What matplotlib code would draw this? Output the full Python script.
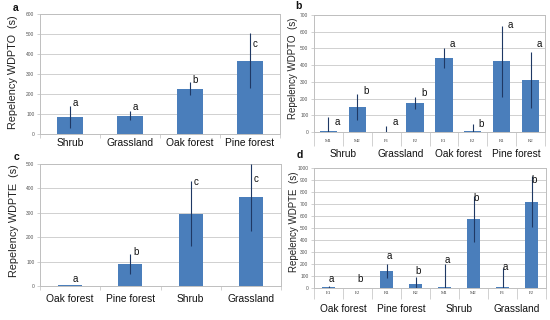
import numpy as np
import matplotlib
matplotlib.use("Agg")
import matplotlib.pyplot as plt

plt.rcParams['font.family'] = ['Liberation Sans', 'DejaVu Sans']

# ---- data ----
a_cats = ["Shrub", "Grassland", "Oak forest", "Pine forest"]
a_vals = [83, 92, 227, 367]
a_err = [55, 23, 33, 137]
a_letters = ["a", "a", "b", "c"]
a_letter_y = [155, 135, 270, 450]

b_ticks = ["M1", "M2", "P1", "P2", "E1", "E2", "R1", "R2"]
b_groups = ["Shrub", "Grassland", "Oak forest", "Pine forest"]
b_vals = [8, 150, 2, 175, 443, 5, 422, 313]
b_err = [80, 78, 36, 35, 58, 40, 214, 167]
b_letters = ["a", "b", "a", "b", "a", "b", "a", "a"]
b_letter_y = [62, 247, 62, 232, 525, 48, 640, 525]

c_cats = ["Oak forest", "Pine forest", "Shrub", "Grassland"]
c_vals = [4, 89, 296, 363]
c_err = [0, 41, 133, 136]
c_letters = ["a", "b", "c", "c"]
c_letter_y = [29, 141, 425, 438]

d_ticks = ["E1", "E2", "R1", "R2", "M1", "M2", "P1", "P2"]
d_groups = ["Oak forest", "Pine forest", "Shrub", "Grassland"]
d_vals = [8, 3, 140, 35, 12, 578, 8, 720]
d_err = [5, 0, 60, 55, 188, 192, 157, 210]
d_letters = ["a", "b", "a", "b", "a", "b", "a", "b"]
d_letter_y = [75, 75, 270, 142, 233, 753, 172, 900]

W, H = 550, 320
BAR = "#4a7ebb"
ERR = "#1f3864"
GRID = "#d0d0d0"
SPINE = "#bfbfbf"

fig = plt.figure(figsize=(W / 100, H / 100), dpi=100)
fig.patch.set_facecolor("white")


def make_ax(l, t, r, b):
    return fig.add_axes([l / W, 1 - b / H, (r - l) / W, (b - t) / H])


def style(ax, ymax, step):
    ax.set_ylim(0, ymax)
    ax.set_yticks(np.arange(0, ymax + 1, step))
    ax.grid(axis="y", color=GRID, linewidth=0.7)
    ax.set_axisbelow(True)
    for s in ax.spines.values():
        s.set_color(SPINE)
        s.set_linewidth(0.7)
    ax.tick_params(axis="y", length=2, width=0.5, color=SPINE, labelsize=3.5,
                   labelcolor="#555555", pad=2)


def draw(ax, vals, err, letters, letter_y, width, dx):
    x = np.arange(len(vals))
    ax.bar(x, vals, width=width, color=BAR, zorder=2)
    ax.errorbar(x, vals, yerr=err, fmt="none", ecolor=ERR, elinewidth=0.8,
                capsize=0, zorder=3)
    for i, (lt, ly) in enumerate(zip(letters, letter_y)):
        ax.text(i + dx, ly, lt, fontsize=7, ha="center", va="center",
                color="#111111", zorder=4)
    n = len(vals)
    ax.set_xlim(-0.5, n - 0.5)
    ax.set_xticks(np.arange(-0.5, n, 1.0), minor=True)
    ax.tick_params(axis="x", which="minor", length=3, width=0.5, color=SPINE)


# panel a
ax_a = make_ax(40, 14, 280, 134)
draw(ax_a, a_vals, a_err, a_letters, a_letter_y, 0.42, 0.09)
style(ax_a, 600, 100)
ax_a.set_xticks(np.arange(len(a_cats)))
ax_a.set_xticklabels(a_cats, fontsize=7.4, color="#111111")
ax_a.tick_params(axis="x", which="major", length=0, pad=3)

# panel b
ax_b = make_ax(314, 15, 545, 132)
draw(ax_b, b_vals, b_err, b_letters, b_letter_y, 0.6, 0.3)
style(ax_b, 700, 100)
ax_b.set_xticks(np.arange(len(b_ticks)))
ax_b.set_xticklabels(b_ticks, fontsize=3.5, color="#444444",
                     family=["Liberation Serif", "DejaVu Serif"])
ax_b.tick_params(axis="x", which="major", length=0, pad=5)
ax_b.tick_params(axis="x", which="minor", length=10)
for k, g in enumerate(b_groups):
    ax_b.annotate(g, xy=(2 * k + 0.5, 0), xycoords=("data", "axes fraction"),
                  xytext=(0, -16), textcoords="offset points", ha="center",
                  va="center", fontsize=7.3, color="#111111")

# panel c
ax_c = make_ax(40, 164, 281, 286)
draw(ax_c, c_vals, c_err, c_letters, c_letter_y, 0.4, 0.09)
style(ax_c, 500, 100)
ax_c.set_xticks(np.arange(len(c_cats)))
ax_c.set_xticklabels(c_cats, fontsize=7.4, color="#111111")
ax_c.tick_params(axis="x", which="major", length=0, pad=6)

# panel d
ax_d = make_ax(314, 168, 546, 288)
draw(ax_d, d_vals, d_err, d_letters, d_letter_y, 0.42, 0.1)
style(ax_d, 1000, 100)
ax_d.set_xticks(np.arange(len(d_ticks)))
ax_d.set_xticklabels(d_ticks, fontsize=3.5, color="#444444",
                     family=["Liberation Serif", "DejaVu Serif"])
ax_d.tick_params(axis="x", which="major", length=0, pad=2.5)
ax_d.tick_params(axis="x", which="minor", length=8)
for k, g in enumerate(d_groups):
    ax_d.annotate(g, xy=(2 * k + 0.5, 0), xycoords=("data", "axes fraction"),
                  xytext=(0, -15), textcoords="offset points", ha="center",
                  va="center", fontsize=7.3, color="#111111")

# y labels
ylab = [("Repelency WDPTO  (s)", 13, 72, 7.8), ("Repelency WDPTO  (s)", 293, 68, 7.0),
        ("Repelency WDPTE  (s)", 14, 221, 7.8), ("Repelency WDPTE  (s)", 294, 222, 7.0)]
for txt, x, y, fs in ylab:
    fig.text(x / W, 1 - y / H, txt, rotation=90, ha="center", va="center",
             fontsize=fs, color="#222222")

# panel letters
for txt, x, y in [("a", 16, 8), ("b", 298, 6), ("c", 17, 157), ("d", 300, 155)]:
    fig.text(x / W, 1 - y / H, txt, ha="center", va="center", fontsize=7.5,
             fontweight="bold", color="#111111")

fig.savefig("out.png", dpi=100, facecolor="white")
